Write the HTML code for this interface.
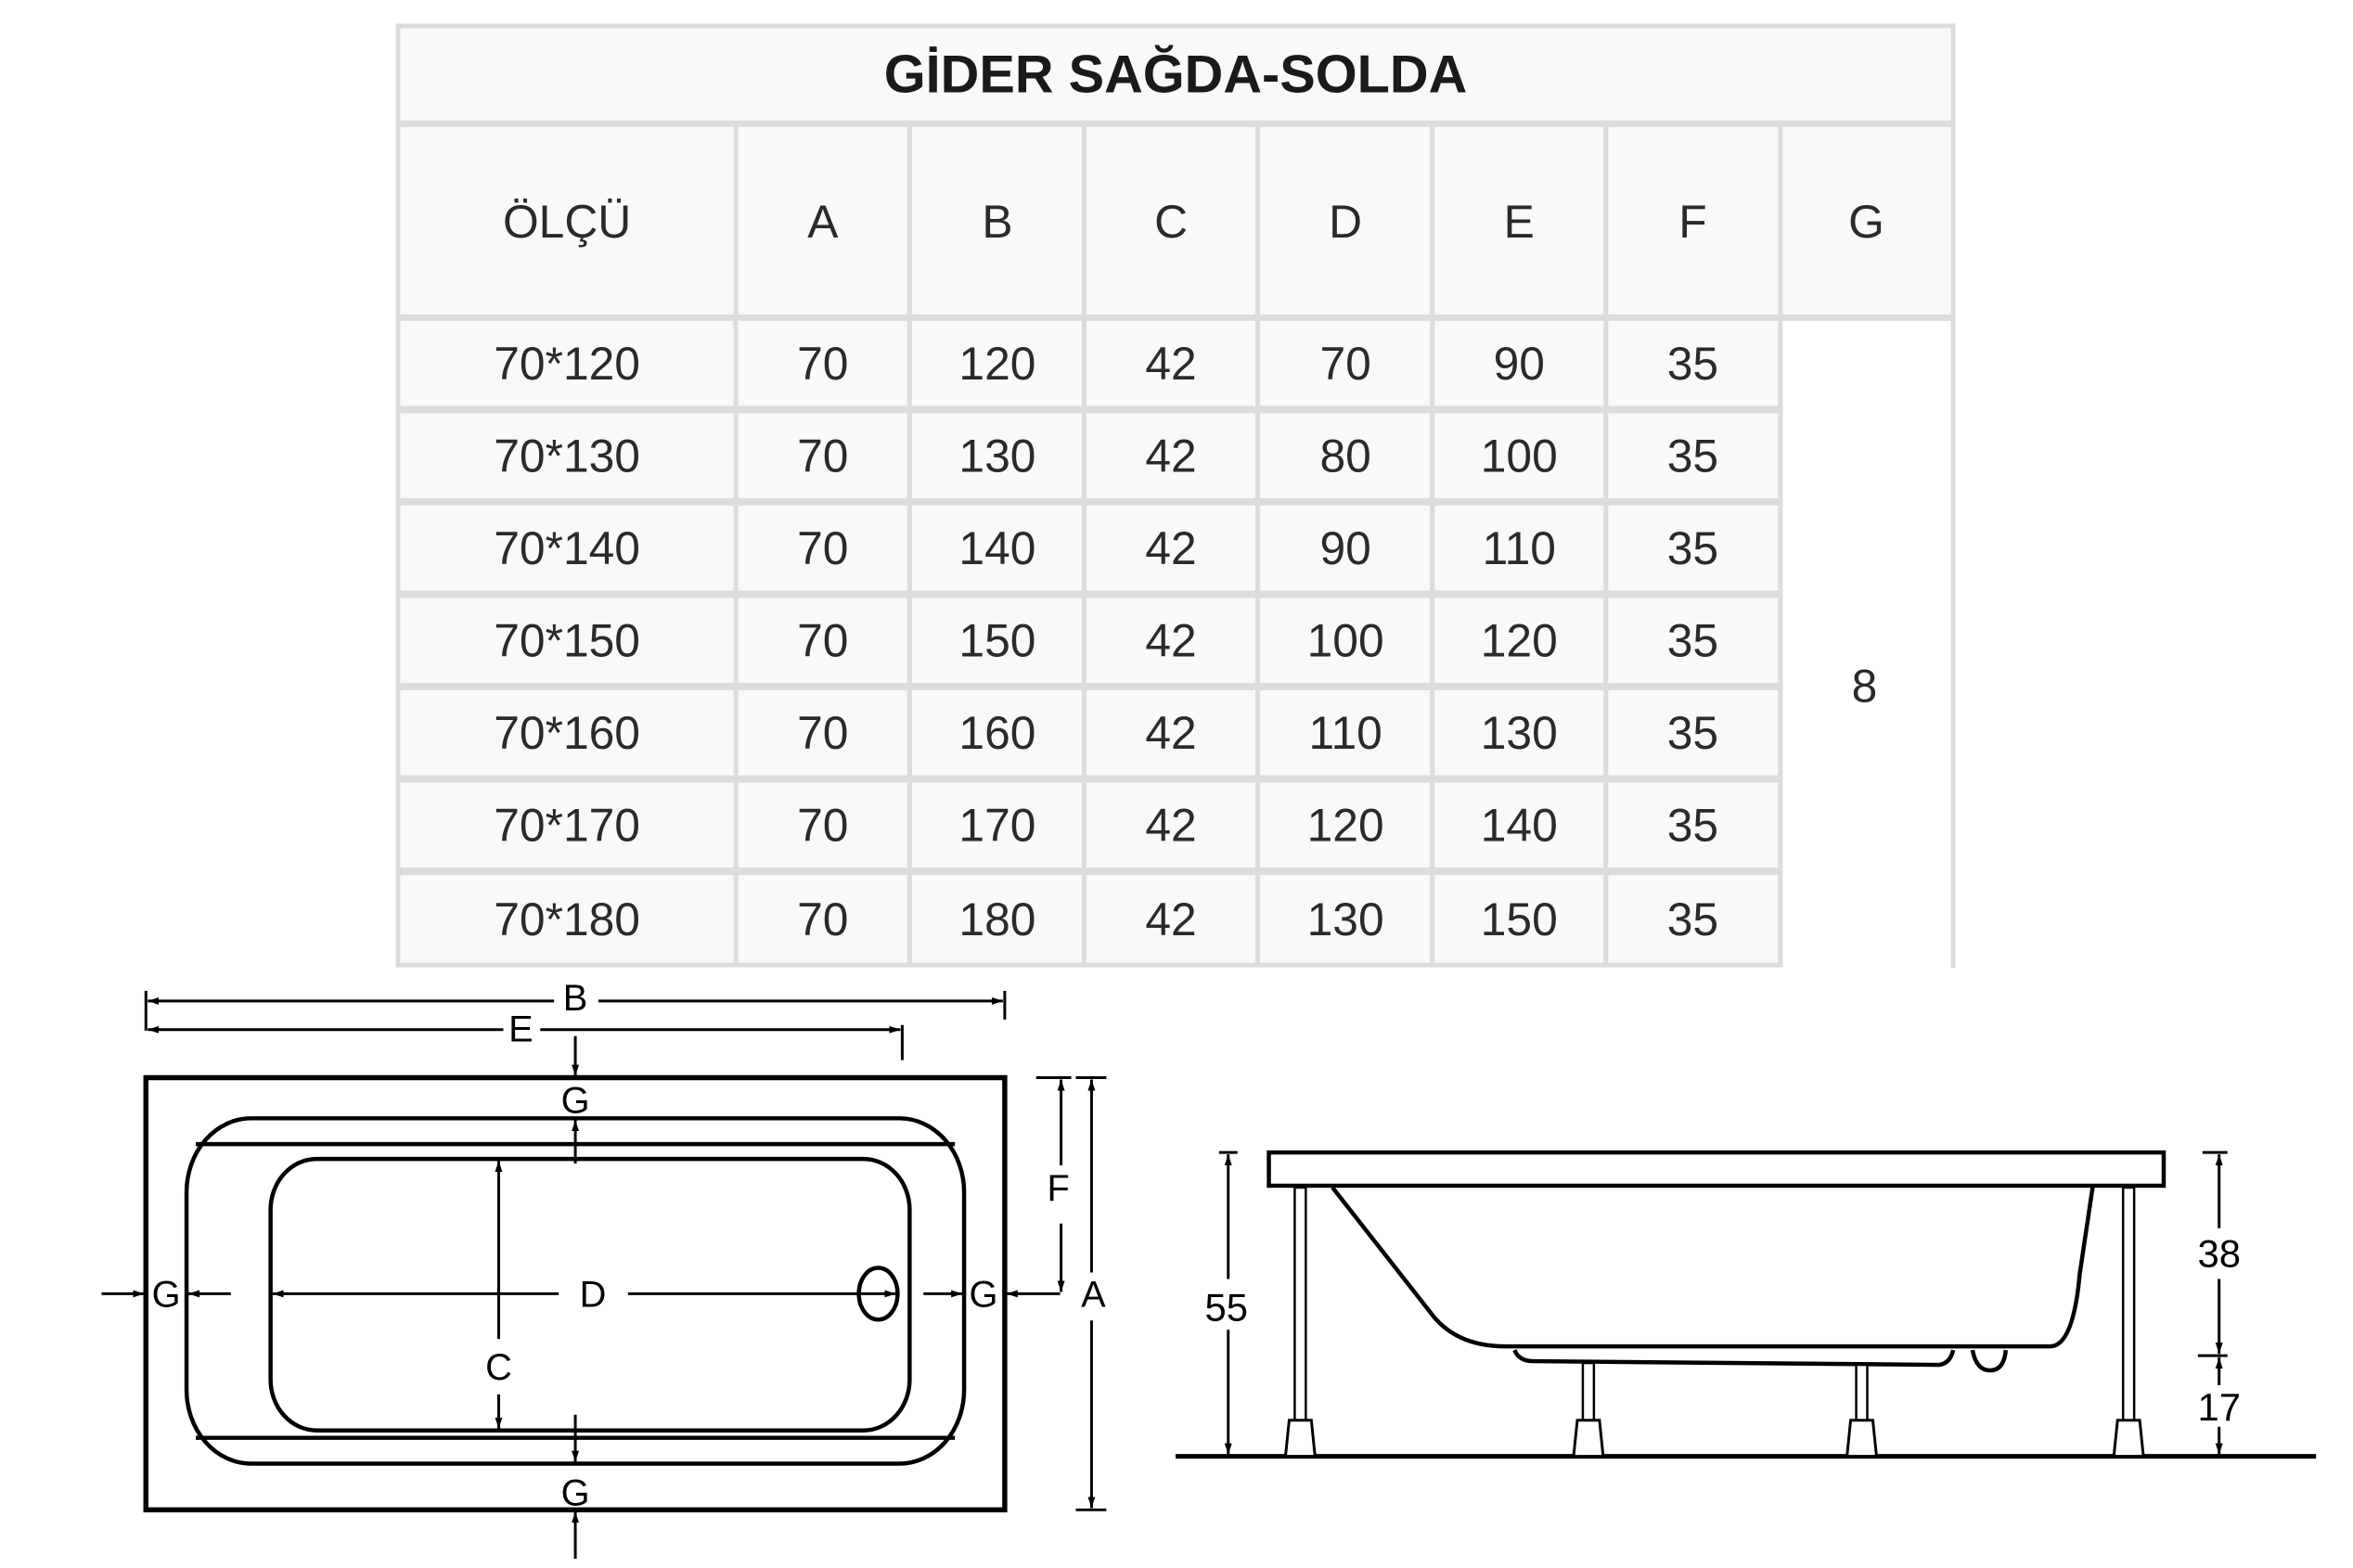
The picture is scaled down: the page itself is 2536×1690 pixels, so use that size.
<!DOCTYPE html>
<html><head><meta charset="utf-8"><style>
body{margin:0;width:2536px;height:1690px;background:#fff;overflow:hidden;position:relative;font-family:"Liberation Sans",sans-serif}
svg{position:absolute;left:0;top:0}
</style></head><body>
<svg width="2536" height="1690" viewBox="0 0 2536 1690" xmlns="http://www.w3.org/2000/svg">
<defs>
<marker id="ar" markerWidth="12" markerHeight="8" refX="12" refY="4" orient="auto-start-reverse" markerUnits="userSpaceOnUse" viewBox="0 0 12 8"><path d="M0,0 L12,4 L0,8 z" fill="#000"/></marker>
</defs>
<g transform="scale(0.9953)">
<!-- TABLE -->
<g fill="#f9f9f9" stroke="#dcdcdc" stroke-width="5">
<rect x="431" y="28" width="1684" height="105"/>
<rect x="431" y="135" width="366" height="208"/>
<rect x="797" y="135" width="188" height="208"/>
<rect x="985" y="135" width="189" height="208"/>
<rect x="1174" y="135" width="188" height="208"/>
<rect x="1362" y="135" width="189" height="208"/>
<rect x="1551" y="135" width="188" height="208"/>
<rect x="1739" y="135" width="189" height="208"/>
<rect x="1928" y="135" width="187" height="208"/>
</g>
<g fill="#f9f9f9" stroke="#dcdcdc" stroke-width="5">
<path d="M1928 345 H2115 V1048" fill="#fff"/>
</g>
<g id="rows" fill="#f9f9f9" stroke="#dcdcdc" stroke-width="5">
<rect x="431" y="345" width="366" height="97"/><rect x="797" y="345" width="188" height="97"/><rect x="985" y="345" width="189" height="97"/><rect x="1174" y="345" width="188" height="97"/><rect x="1362" y="345" width="189" height="97"/><rect x="1551" y="345" width="188" height="97"/><rect x="1739" y="345" width="189" height="97"/>
<rect x="431" y="445" width="366" height="97"/><rect x="797" y="445" width="188" height="97"/><rect x="985" y="445" width="189" height="97"/><rect x="1174" y="445" width="188" height="97"/><rect x="1362" y="445" width="189" height="97"/><rect x="1551" y="445" width="188" height="97"/><rect x="1739" y="445" width="189" height="97"/>
<rect x="431" y="545" width="366" height="97"/><rect x="797" y="545" width="188" height="97"/><rect x="985" y="545" width="189" height="97"/><rect x="1174" y="545" width="188" height="97"/><rect x="1362" y="545" width="189" height="97"/><rect x="1551" y="545" width="188" height="97"/><rect x="1739" y="545" width="189" height="97"/>
<rect x="431" y="645" width="366" height="97"/><rect x="797" y="645" width="188" height="97"/><rect x="985" y="645" width="189" height="97"/><rect x="1174" y="645" width="188" height="97"/><rect x="1362" y="645" width="189" height="97"/><rect x="1551" y="645" width="188" height="97"/><rect x="1739" y="645" width="189" height="97"/>
<rect x="431" y="745" width="366" height="97"/><rect x="797" y="745" width="188" height="97"/><rect x="985" y="745" width="189" height="97"/><rect x="1174" y="745" width="188" height="97"/><rect x="1362" y="745" width="189" height="97"/><rect x="1551" y="745" width="188" height="97"/><rect x="1739" y="745" width="189" height="97"/>
<rect x="431" y="845" width="366" height="97"/><rect x="797" y="845" width="188" height="97"/><rect x="985" y="845" width="189" height="97"/><rect x="1174" y="845" width="188" height="97"/><rect x="1362" y="845" width="189" height="97"/><rect x="1551" y="845" width="188" height="97"/><rect x="1739" y="845" width="189" height="97"/>
<rect x="431" y="945" width="366" height="100"/><rect x="797" y="945" width="188" height="100"/><rect x="985" y="945" width="189" height="100"/><rect x="1174" y="945" width="188" height="100"/><rect x="1362" y="945" width="189" height="100"/><rect x="1551" y="945" width="188" height="100"/><rect x="1739" y="945" width="189" height="100"/>
</g>
<g font-family="Liberation Sans, sans-serif" fill="#2a2a2a" text-anchor="middle">
<text x="1273" y="100" font-size="58" font-weight="bold" fill="#1a1a1a">GİDER SAĞDA-SOLDA</text>
<g font-size="50">
<text x="614" y="257">ÖLÇÜ</text><text x="891" y="257">A</text><text x="1080" y="257">B</text><text x="1268" y="257">C</text><text x="1457" y="257">D</text><text x="1645" y="257">E</text><text x="1833" y="257">F</text><text x="2021" y="257">G</text>
<text x="2019" y="760">8</text>
</g>
<g font-size="50">
<text x="614" y="411">70*120</text><text x="891" y="411">70</text><text x="1080" y="411">120</text><text x="1268" y="411">42</text><text x="1457" y="411">70</text><text x="1645" y="411">90</text><text x="1833" y="411">35</text>
<text x="614" y="511">70*130</text><text x="891" y="511">70</text><text x="1080" y="511">130</text><text x="1268" y="511">42</text><text x="1457" y="511">80</text><text x="1645" y="511">100</text><text x="1833" y="511">35</text>
<text x="614" y="611">70*140</text><text x="891" y="611">70</text><text x="1080" y="611">140</text><text x="1268" y="611">42</text><text x="1457" y="611">90</text><text x="1645" y="611">110</text><text x="1833" y="611">35</text>
<text x="614" y="711">70*150</text><text x="891" y="711">70</text><text x="1080" y="711">150</text><text x="1268" y="711">42</text><text x="1457" y="711">100</text><text x="1645" y="711">120</text><text x="1833" y="711">35</text>
<text x="614" y="811">70*160</text><text x="891" y="811">70</text><text x="1080" y="811">160</text><text x="1268" y="811">42</text><text x="1457" y="811">110</text><text x="1645" y="811">130</text><text x="1833" y="811">35</text>
<text x="614" y="911">70*170</text><text x="891" y="911">70</text><text x="1080" y="911">170</text><text x="1268" y="911">42</text><text x="1457" y="911">120</text><text x="1645" y="911">140</text><text x="1833" y="911">35</text>
<text x="614" y="1013">70*180</text><text x="891" y="1013">70</text><text x="1080" y="1013">180</text><text x="1268" y="1013">42</text><text x="1457" y="1013">130</text><text x="1645" y="1013">150</text><text x="1833" y="1013">35</text>
</g>
</g>

<!-- TOP VIEW -->
<g stroke="#000" fill="none" stroke-width="4.5">
<rect x="158" y="1167" width="930" height="468" stroke-width="5.5"/>
<rect x="202" y="1211" width="842" height="374" rx="70" ry="80"/>
<line x1="212" y1="1239" x2="1034" y2="1239"/>
<line x1="212" y1="1557" x2="1034" y2="1557"/>
<rect x="293" y="1255" width="692" height="294" rx="50" ry="55"/>
<ellipse cx="951" cy="1401" rx="21" ry="28"/>
</g>
<g stroke="#000" stroke-width="3" fill="none">
<line x1="158" y1="1073" x2="158" y2="1116"/><line x1="1088" y1="1073" x2="1088" y2="1104"/>
<line x1="160" y1="1084" x2="600" y2="1084" marker-start="url(#ar)"/>
<line x1="648" y1="1084" x2="1086" y2="1084" marker-end="url(#ar)"/>
<line x1="977" y1="1110" x2="977" y2="1148"/>
<line x1="160" y1="1115" x2="545" y2="1115" marker-start="url(#ar)"/>
<line x1="585" y1="1115" x2="975" y2="1115" marker-end="url(#ar)"/>
<line x1="623" y1="1122" x2="623" y2="1165" marker-end="url(#ar)"/>
<line x1="623" y1="1260" x2="623" y2="1213" marker-end="url(#ar)"/>
<line x1="623" y1="1532" x2="623" y2="1583" marker-end="url(#ar)"/>
<line x1="623" y1="1688" x2="623" y2="1637" marker-end="url(#ar)"/>
<line x1="110" y1="1401" x2="156" y2="1401" marker-end="url(#ar)"/>
<line x1="250" y1="1401" x2="204" y2="1401" marker-end="url(#ar)"/>
<line x1="1000" y1="1401" x2="1042" y2="1401" marker-end="url(#ar)"/>
<line x1="1148" y1="1401" x2="1090" y2="1401" marker-end="url(#ar)"/>
<line x1="295" y1="1401" x2="605" y2="1401" marker-start="url(#ar)"/>
<line x1="680" y1="1401" x2="970" y2="1401" marker-end="url(#ar)"/>
<line x1="540" y1="1257" x2="540" y2="1450" marker-start="url(#ar)"/>
<line x1="540" y1="1510" x2="540" y2="1547" marker-end="url(#ar)"/>
<line x1="1122" y1="1167" x2="1160" y2="1167"/><line x1="1165" y1="1167" x2="1198" y2="1167"/>
<line x1="1149" y1="1169" x2="1149" y2="1262" marker-start="url(#ar)"/>
<line x1="1149" y1="1325" x2="1149" y2="1399" marker-end="url(#ar)"/>
<line x1="1182" y1="1169" x2="1182" y2="1378" marker-start="url(#ar)"/>
<line x1="1182" y1="1430" x2="1182" y2="1633" marker-end="url(#ar)"/>
<line x1="1165" y1="1635" x2="1198" y2="1635"/>
</g>
<g font-family="Liberation Sans, sans-serif" font-size="40" text-anchor="middle" fill="#000">
<text x="623" y="1094">B</text><text x="564" y="1128">E</text>
<text x="623" y="1205">G</text><text x="623" y="1630">G</text>
<text x="180" y="1415">G</text><text x="1065" y="1415">G</text>
<text x="642" y="1415">D</text><text x="540" y="1494">C</text>
<text x="1146" y="1300">F</text><text x="1184" y="1415">A</text>
</g>

<!-- SIDE VIEW -->
<g stroke="#000" fill="none" stroke-width="4.5">
<line x1="1273" y1="1577" x2="2508" y2="1577" stroke-width="5"/>
<rect x="1374" y="1248" width="969" height="36"/>
<path d="M1443 1286 L1548 1420 Q1575 1458 1630 1458 L2220 1458 Q2245 1458 2252 1380 L2266 1286"/>
<path d="M1640 1462 Q1645 1474 1660 1474 L2100 1478 Q2112 1476 2115 1462"/>
<path d="M2136 1462 Q2140 1484 2155 1484 Q2170 1484 2172 1462"/>
</g>
<g stroke="#000" fill="#fff" stroke-width="2.5">
<rect x="1402" y="1286" width="12" height="252"/>
<rect x="1714" y="1476" width="12" height="62"/>
<rect x="2010" y="1478" width="12" height="60"/>
<rect x="2299" y="1286" width="12" height="252"/>
<path d="M1396 1538 H1420 L1424 1577 H1392 Z" stroke-width="3"/>
<path d="M1708 1538 H1732 L1736 1577 H1704 Z" stroke-width="3"/>
<path d="M2004 1538 H2028 L2032 1577 H2000 Z" stroke-width="3"/>
<path d="M2293 1538 H2317 L2321 1577 H2289 Z" stroke-width="3"/>
</g>
<g stroke="#000" stroke-width="3" fill="none">
<line x1="1320" y1="1248" x2="1340" y2="1248"/>
<line x1="1330" y1="1250" x2="1330" y2="1385" marker-start="url(#ar)"/>
<line x1="1330" y1="1440" x2="1330" y2="1575" marker-end="url(#ar)"/>
<line x1="2385" y1="1248" x2="2412" y2="1248"/>
<line x1="2380" y1="1468" x2="2412" y2="1468"/>
<line x1="2403" y1="1250" x2="2403" y2="1330" marker-start="url(#ar)"/>
<line x1="2403" y1="1385" x2="2403" y2="1466" marker-end="url(#ar)"/>
<line x1="2403" y1="1470" x2="2403" y2="1500" marker-start="url(#ar)"/>
<line x1="2403" y1="1545" x2="2403" y2="1575" marker-end="url(#ar)"/>
</g>
<g font-family="Liberation Sans, sans-serif" font-size="42" text-anchor="middle" fill="#000">
<text x="1328" y="1430">55</text><text x="2403" y="1372">38</text><text x="2403" y="1538">17</text>
</g>
</g>
</svg>
</body></html>
